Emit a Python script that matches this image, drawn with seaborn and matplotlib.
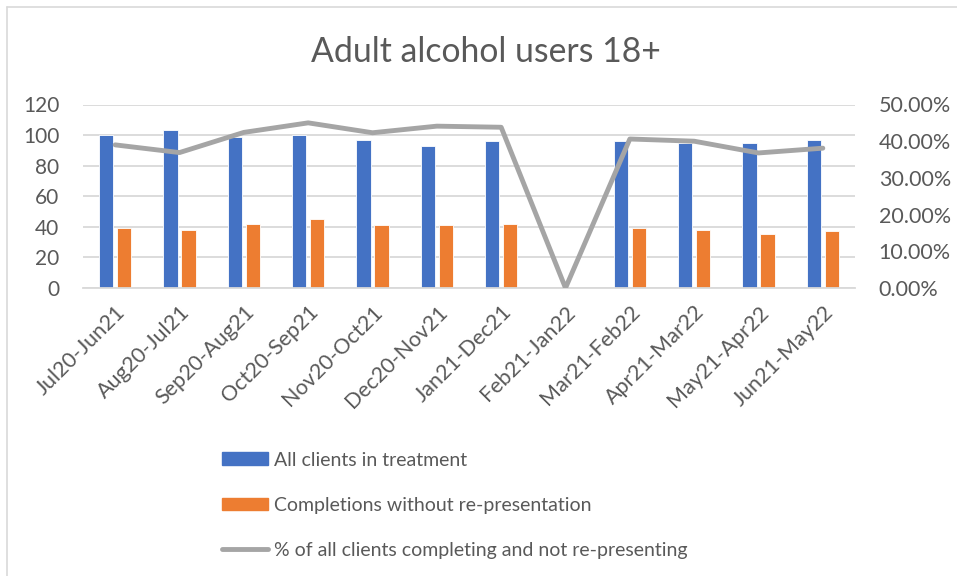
import numpy as np
import pandas as pd
import matplotlib
matplotlib.use("Agg")
import matplotlib.pyplot as plt
import seaborn as sns
from matplotlib.lines import Line2D
from matplotlib.patches import Patch
from matplotlib.ticker import FuncFormatter

# Data
periods = ["Jul20-Jun21", "Aug20-Jul21", "Sep20-Aug21", "Oct20-Sep21", "Nov20-Oct21",
           "Dec20-Nov21", "Jan21-Dec21", "Feb21-Jan22", "Mar21-Feb22", "Apr21-Mar22",
           "May21-Apr22", "Jun21-May22"]
all_clients = [100, 103, 99, 100, 97, 93, 96, 0, 96, 95, 95, 97]
completions = [39, 38, 42, 45, 41, 41, 42, 0, 39, 38, 35, 37]
pct_completing = [0.390, 0.369, 0.424, 0.450, 0.423, 0.441, 0.438, 0.0, 0.406, 0.400, 0.368, 0.381]

series_names = ["All clients in treatment", "Completions without re-presentation"]
line_name = "% of all clients completing and not re-presenting"

BLUE = "#4472C4"
ORANGE = "#ED7D31"
GREY = "#A5A5A5"
TEXT = "#595959"

df = pd.DataFrame({
    "period": periods * 2,
    "value": all_clients + completions,
    "series": [series_names[0]] * len(periods) + [series_names[1]] * len(periods),
})

sns.set_theme(style="white")
plt.rcParams["font.family"] = ["Lato", "DejaVu Sans"]

fig = plt.figure(figsize=(9.57, 5.76), dpi=100)
ax = fig.add_axes([83 / 957, 1 - 288 / 576, (855 - 83) / 957, (288 - 104.5) / 576])

sns.barplot(data=df, x="period", y="value", hue="series", order=periods,
            hue_order=series_names, palette=[BLUE, ORANGE], saturation=1,
            width=0.56, gap=0.2, edgecolor="white", linewidth=0.6, legend=False, ax=ax)

ax.set_xlim(-0.5, len(periods) - 0.5)
ax.set_ylim(0, 120)
ax.set_yticks(range(0, 121, 20))
ax.yaxis.grid(True, color="#D9D9D9", linewidth=1.3)
ax.set_axisbelow(True)
for s in ["top", "right", "left"]:
    ax.spines[s].set_visible(False)
ax.spines["bottom"].set_color("#D9D9D9")
ax.spines["bottom"].set_linewidth(1.3)
ax.set_xlabel("")
ax.set_ylabel("")
ax.tick_params(axis="y", length=0, colors=TEXT, labelsize=15, pad=17)
ax.tick_params(axis="x", length=0, colors=TEXT, labelsize=15.5, pad=10)
plt.setp(ax.get_xticklabels(), rotation=45, ha="right", rotation_mode="anchor")

ax2 = ax.twinx()
sns.lineplot(x=np.arange(len(periods)), y=pct_completing, color=GREY, linewidth=3.5,
             ax=ax2, legend=False)
ax2.set_ylim(0, 0.5)
ax2.set_yticks(np.arange(0, 0.51, 0.1))
ax2.yaxis.set_major_formatter(FuncFormatter(lambda v, p: f"{v * 100:.2f}%"))
ax2.tick_params(axis="y", length=0, colors=TEXT, labelsize=15.5, pad=17)
for s in ["top", "right", "left", "bottom"]:
    ax2.spines[s].set_visible(False)
ax2.grid(False)

fig.text(486 / 957, 1 - 52 / 576, "Adult alcohol users 18+", ha="center", va="center",
         fontsize=24.3, color=TEXT)

handles = [Patch(facecolor=BLUE, edgecolor=BLUE),
           Patch(facecolor=ORANGE, edgecolor=ORANGE),
           Line2D([0], [0], color=GREY, linewidth=3.5, solid_capstyle="round")]
fig.legend(handles, series_names + [line_name], loc="upper left",
           bbox_to_anchor=(204 / 957, 1 - 434 / 576), frameon=False, fontsize=14,
           labelcolor=TEXT, handlelength=2.4, handleheight=0.6, handletextpad=0.3,
           labelspacing=1.45)

# chart border (top and left edges visible)
fig.add_artist(Line2D([6.5 / 957, 1], [1 - 6.5 / 576] * 2, color="#D9D9D9", linewidth=1.2))
fig.add_artist(Line2D([6.5 / 957] * 2, [0, 1 - 6.5 / 576], color="#D9D9D9", linewidth=1.2))

fig.savefig("out.png", dpi=100, facecolor="white")
